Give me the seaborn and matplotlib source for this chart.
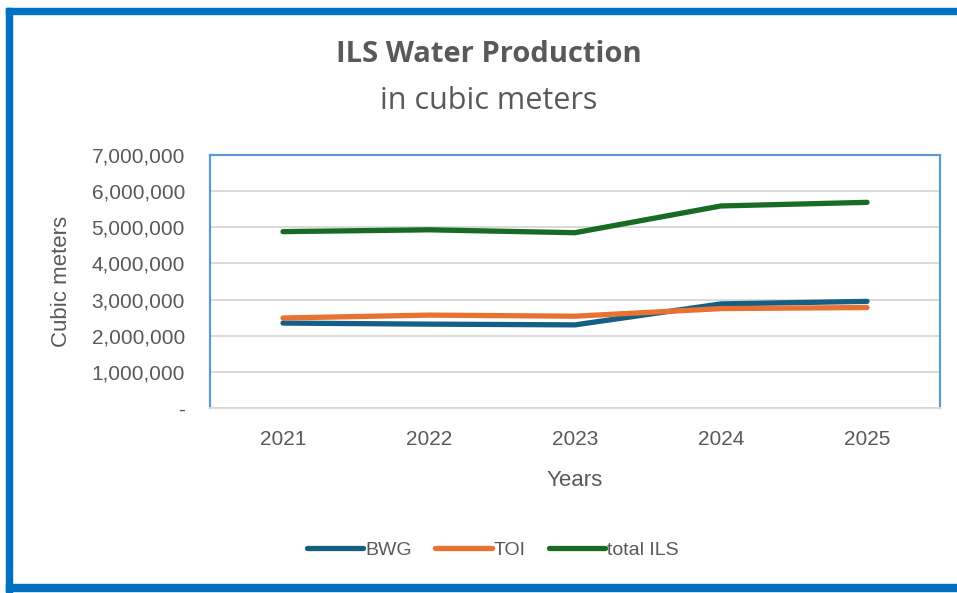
import pandas as pd
import matplotlib
matplotlib.use("Agg")
import matplotlib.pyplot as plt
from matplotlib.patches import Rectangle
from matplotlib.ticker import FuncFormatter
import seaborn as sns

# values (cubic meters)
years = ["2021", "2022", "2023", "2024", "2025"]
bwg = [2350000, 2320000, 2300000, 2880000, 2950000]
toi = [2490000, 2570000, 2540000, 2750000, 2780000]
total_ils = [4880000, 4930000, 4850000, 5590000, 5690000]
series_names = ["BWG", "TOI", "total ILS"]
colors = ["#156082", "#E97132", "#196B24"]

data = pd.DataFrame({"year": years * 3,
                     "value": bwg + toi + total_ils,
                     "series": [s for s in series_names for _ in years]})

sns.set_theme(style="white")
plt.rcParams["font.family"] = ["Liberation Sans", "DejaVu Sans"]

fig = plt.figure(figsize=(9.57, 5.93), dpi=100)
ax = fig.add_axes([210 / 957, 1 - 408 / 593, 730 / 957, 253 / 593])

sns.lineplot(data=data, x="year", y="value", hue="series", palette=colors,
             linewidth=3.8, ax=ax, legend=False, solid_capstyle="round")

ax.set_xlim(-0.5, 4.5)
ax.set_ylim(0, 7000000)
ax.set_yticks(range(0, 7000001, 1000000))
ax.yaxis.set_major_formatter(FuncFormatter(lambda v, p: "-" if v == 0 else f"{int(v):,}"))
ax.grid(axis="y", color="#D9D9D9", linewidth=1.4)
ax.set_axisbelow(True)
ax.tick_params(axis="both", labelsize=15, labelcolor="#595959", length=0)
ax.tick_params(axis="x", pad=16)
ax.tick_params(axis="y", pad=18)

for side in ["left", "top", "right"]:
    ax.spines[side].set_color("#5B9BD5")
    ax.spines[side].set_linewidth(1.6)
ax.spines["bottom"].set_color("#D9D9D9")
ax.spines["bottom"].set_linewidth(1.4)

ax.set_xlabel("Years", fontsize=16, color="#595959", labelpad=15)
ax.set_ylabel("Cubic meters", fontsize=16, color="#595959", labelpad=14)

fig.text(0.511, 1 - 54 / 593, "ILS Water Production", ha="center", va="center",
         fontsize=21, fontweight="bold", color="#595959", family=["Open Sans", "DejaVu Sans"])
fig.text(0.511, 1 - 101 / 593, "in cubic meters", ha="center", va="center",
         fontsize=22, color="#595959", family=["Open Sans", "DejaVu Sans"])

handles = [plt.Line2D([], [], color=c, linewidth=3.8, solid_capstyle="round") for c in colors]
fig.legend(handles, series_names, loc="center", bbox_to_anchor=(0.515, 1 - 550 / 593),
           ncol=3, frameon=False, fontsize=14, labelcolor="#595959",
           handlelength=2.9, handletextpad=0.1, columnspacing=1.2)

# outer blue frame (top, left, bottom)
frame = "#0070C0"
fig.patches.append(Rectangle((6 / 957, 1 - 14 / 593), 1, 6 / 593, color=frame,
                             transform=fig.transFigure, figure=fig))
fig.patches.append(Rectangle((6 / 957, 0), 6 / 957, 1 - 8 / 593, color=frame,
                             transform=fig.transFigure, figure=fig))
fig.patches.append(Rectangle((6 / 957, 2 / 593), 1, 7 / 593, color=frame,
                             transform=fig.transFigure, figure=fig))

fig.savefig("out.png", dpi=100)
